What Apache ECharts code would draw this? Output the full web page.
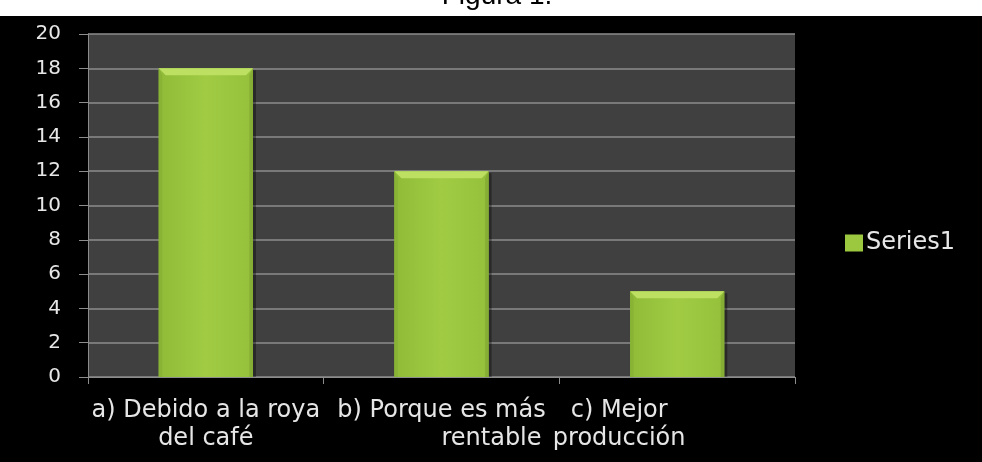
<!DOCTYPE html>
<html>
<head>
<meta charset="utf-8">
<script src="https://cdn.jsdelivr.net/npm/echarts@6/dist/echarts.min.js"></script>
<style>
  html, body { margin: 0; padding: 0; background: #000; }
  #chart { width: 982px; height: 462px; }
</style>
</head>
<body>
<div id="chart"></div>
<script>
// Reasons given, and how many respondents chose each
const categories = ['a) Debido a la roya\ndel café', 'b) Porque es más\nrentable', 'c) Mejor\nproducción'];
const series1 = [18, 12, 5];
const yTicks = { min: 0, max: 20, interval: 2 };
const seriesName = 'Series1';
const figureTitle = 'Figura 1.';

const FONT = '"DejaVu Sans", Verdana, sans-serif';
const GREEN = '#9cc83f';
const LABEL = { color: '#e6e6e6', fontSize: 24, lineHeight: 28, fontFamily: FONT };

// Bevelled bar drawn from the axis scale
function renderBar(params, api) {
  const idx = api.value(0);
  const val = api.value(1);
  const top = api.coord([idx, val]);
  const base = api.coord([idx, 0]);
  const w = api.size([1, 0])[0] * 0.4;
  const x0 = top[0] - w / 2, x1 = top[0] + w / 2;
  const y0 = top[1], y1 = base[1];
  const b = 7;
  return {
    type: 'group',
    children: [
      { type: 'rect', shape: { x: x0 + 3, y: y0 + 2, width: w, height: y1 - y0 - 2 },
        style: { fill: 'rgba(0,0,0,0.35)' } },
      { type: 'rect', shape: { x: x0, y: y0, width: w, height: y1 - y0 },
        style: { fill: new echarts.graphic.LinearGradient(0, 0, 1, 0, [
          { offset: 0, color: '#8fbb38' }, { offset: 0.5, color: '#a0cb43' }, { offset: 1, color: '#95c03b' }]) } },
      { type: 'polygon', shape: { points: [[x0, y0], [x1, y0], [x1 - b, y0 + b], [x0 + b, y0 + b]] },
        style: { fill: '#bde063' } },
      { type: 'polygon', shape: { points: [[x0, y0], [x0 + b * 0.5, y0 + b], [x0 + b * 0.5, y1], [x0, y1]] },
        style: { fill: '#88b335' } },
      { type: 'polygon', shape: { points: [[x1, y0], [x1 - b * 0.5, y0 + b], [x1 - b * 0.5, y1], [x1, y1]] },
        style: { fill: '#86ad34' } }
    ]
  };
}

// The last label sits a little to the left of its slot
const categoryItems = categories.map((c, i) =>
  i === 2 ? { value: c, textStyle: { padding: [0, 116, 0, 0] } } : c);

// Second line of the middle label is set off to the right
function labelFormatter(value) {
  if (value === categories[1]) {
    const parts = value.split('\n');
    return parts[0] + '\n{shift|' + parts[1] + '}';
  }
  return value;
}

const chart = echarts.init(document.getElementById('chart'), null, { renderer: 'canvas' });
chart.setOption({
  backgroundColor: '#000',
  animation: false,
  graphic: [
    { type: 'rect', left: 0, top: 0, shape: { width: 982, height: 16 }, style: { fill: '#fff' }, z: 0 },
    { type: 'text', x: 497, y: 10, style: { text: figureTitle, fill: '#000', font: '28px "Liberation Sans", Arial, sans-serif',
      align: 'center', verticalAlign: 'bottom' }, z: 1 }
  ],
  grid: { left: 88, right: 187, top: 34, bottom: 85, show: true, backgroundColor: '#404040', borderWidth: 0 },
  legend: {
    data: [{ name: seriesName, icon: 'rect' }],
    left: 840, top: 226, itemWidth: 18, itemHeight: 17, itemGap: 7,
    textStyle: { color: '#e6e6e6', fontSize: 24, fontFamily: FONT, padding: [0, 0, 0, -2] }
  },
  xAxis: {
    type: 'category', data: categoryItems, boundaryGap: true,
    axisLine: { lineStyle: { color: '#8c8c8c', width: 1 } },
    axisTick: { show: true, length: 7, interval: 0, lineStyle: { color: '#8c8c8c' } },
    axisLabel: Object.assign({ interval: 0, margin: 20, formatter: labelFormatter,
      rich: { shift: Object.assign({ padding: [0, 0, 0, 100] }, LABEL) } }, LABEL),
    splitLine: { show: false }
  },
  yAxis: {
    type: 'value', min: yTicks.min, max: yTicks.max, interval: yTicks.interval,
    axisLine: { show: true, lineStyle: { color: '#8c8c8c', width: 1 } },
    axisTick: { show: true, length: 9, lineStyle: { color: '#8c8c8c' } },
    axisLabel: { color: '#e6e6e6', fontSize: 20, margin: 27, fontFamily: FONT },
    splitLine: { lineStyle: { color: '#8c8c8c', width: 1.5 } }
  },
  series: [{
    name: seriesName, type: 'custom', renderItem: renderBar,
    itemStyle: { color: GREEN },
    encode: { x: 0, y: 1 },
    data: series1.map((v, i) => [i, v]),
    z: 3
  }]
});
</script>
</body>
</html>
